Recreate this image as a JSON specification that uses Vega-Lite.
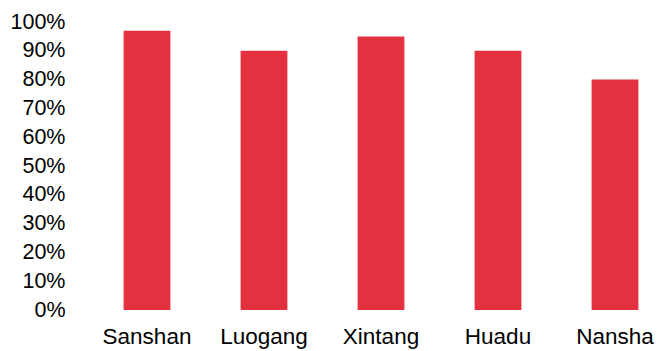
{
  "$schema": "https://vega.github.io/schema/vega-lite/v6.json",
  "autosize": "none",
  "width": 578,
  "height": 288,
  "padding": {"left": 92, "top": 22, "right": 0, "bottom": 41},
  "background": "white",
  "config": {"view": {"stroke": null}, "font": "Liberation Sans"},
  "data": {"values": [
    {"district": "Sanshan", "rate": 0.97},
    {"district": "Luogang", "rate": 0.90},
    {"district": "Xintang", "rate": 0.95},
    {"district": "Huadu", "rate": 0.90},
    {"district": "Nansha", "rate": 0.80}
  ]},
  "mark": {"type": "bar", "color": "#E4313F"},
  "encoding": {
    "x": {"field": "district", "type": "nominal", "sort": null,
      "scale": {"paddingInner": 0.6, "paddingOuter": 0.27},
      "axis": {"title": null, "domain": false, "ticks": false, "labelAngle": 0, "labelFontSize": 22.5, "labelColor": "#000", "labelPadding": 15, "labelFont": "Liberation Sans"}},
    "y": {"field": "rate", "type": "quantitative",
      "scale": {"domain": [0, 1]},
      "axis": {"title": null, "domain": false, "ticks": false, "grid": false, "format": ".0%", "values": [0,0.1,0.2,0.3,0.4,0.5,0.6,0.7,0.8,0.9,1], "labelFontSize": 21.5, "labelColor": "#000", "labelPadding": 27, "labelFont": "Liberation Sans"}}
  }
}
